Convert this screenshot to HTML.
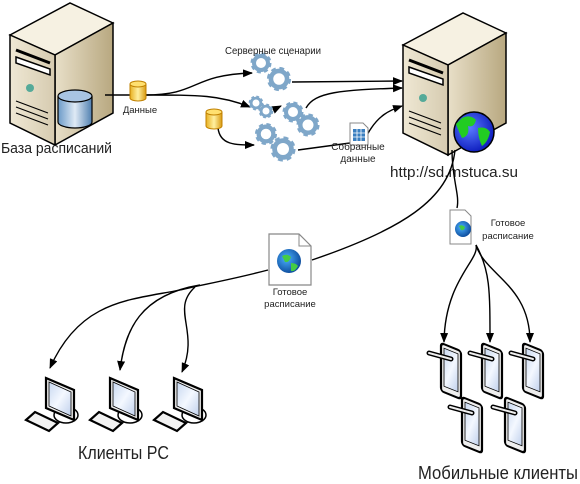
<!DOCTYPE html>
<html><head><meta charset="utf-8"><style>
html,body{margin:0;padding:0;background:#fff;}
svg{display:block;font-family:"Liberation Sans","DejaVu Sans",sans-serif;}
</style></head><body>
<svg width="580" height="484" viewBox="0 0 580 484" xmlns="http://www.w3.org/2000/svg">
<defs>
<marker id="ar" markerWidth="10" markerHeight="8" refX="9" refY="4" orient="auto" markerUnits="userSpaceOnUse"><path d="M0,0 L10,4 L0,8 z" fill="#000"/></marker>
<linearGradient id="front" x1="0" x2="1"><stop offset="0" stop-color="#efe8d4"/><stop offset="1" stop-color="#d6cbb0"/></linearGradient>
<linearGradient id="side" x1="0" x2="1"><stop offset="0" stop-color="#e8dfc8"/><stop offset="1" stop-color="#b8a880"/></linearGradient>
<linearGradient id="cyl" x1="0" x2="1"><stop offset="0" stop-color="#6b9ac8"/><stop offset=".5" stop-color="#dfeaf5"/><stop offset="1" stop-color="#4f7fb0"/></linearGradient>
<linearGradient id="ycyl" x1="0" x2="1"><stop offset="0" stop-color="#e8b020"/><stop offset=".5" stop-color="#fff0a0"/><stop offset="1" stop-color="#d99a10"/></linearGradient>
<radialGradient id="globe" cx=".4" cy=".4" r=".6"><stop offset="0" stop-color="#5a7aff"/><stop offset="1" stop-color="#1020c0"/></radialGradient>
<radialGradient id="globe2" cx=".4" cy=".4" r=".6"><stop offset="0" stop-color="#4ab0ff"/><stop offset="1" stop-color="#1050a0"/></radialGradient>
<linearGradient id="scr" x1="0" y1="0" x2="1" y2="1"><stop offset="0" stop-color="#c8d8f0"/><stop offset=".5" stop-color="#f4f8ff"/><stop offset="1" stop-color="#c0d0ec"/></linearGradient>
<g id="gear"><circle r="8" fill="none" stroke="#7fa7c9" stroke-width="5" stroke-dasharray="3.5 2.8"/><circle r="7" fill="none" stroke="#7fa7c9" stroke-width="4"/><circle r="3.5" fill="#fff"/></g>
<g id="server">
<polygon points="0,32 60,0 103,20 45,52" fill="#f6f1e2" stroke="#000" stroke-width="1.5"/>
<polygon points="45,52 103,20 103,110 45,142" fill="url(#side)" stroke="#000" stroke-width="1.5"/>
<polygon points="0,32 45,52 45,142 0,120" fill="url(#front)" stroke="#000" stroke-width="1.5"/>
<path d="M6,47 L40,60" stroke="#000" stroke-width="3"/>
<path d="M6,54 L40,66 L40,72 L6,60 z" fill="#fff" stroke="#000" stroke-width="1.5"/>
<circle cx="20" cy="85" r="4" fill="#5a9"/>
<path d="M6,98 L38,110 M6,104 L38,116 M6,110 L38,122" stroke="#000" stroke-width="1.2"/>
</g>
<g id="pc">
<ellipse cx="20" cy="37" rx="12" ry="8" fill="#fff" stroke="#000" stroke-width="1.5"/>
<polygon points="0,0 28,12 28,42 0,30" fill="#eee" stroke="#000" stroke-width="2.2"/>
<polygon points="3,4 25,14 25,38 3,28" fill="url(#scr)" stroke="#000" stroke-width=".8"/>
<polygon points="-20,42 -11,34 12,45 3,53" fill="#f2f2f2" stroke="#000" stroke-width="2.2"/>
</g>
<g id="tab">
<rect x="0" y="0" width="20" height="48" rx="3" transform="skewY(22)" fill="#eee" stroke="#000" stroke-width="2.2"/>
<rect x="3" y="4" width="14" height="38" transform="skewY(22)" fill="url(#scr)" stroke="#000" stroke-width=".8"/>
<path d="M-12,10 L10,16" stroke="#000" stroke-width="5" stroke-linecap="round"/>
<path d="M-12,10 L10,16" stroke="#eee" stroke-width="2" stroke-linecap="round"/>
</g>
</defs>

<use href="#server" x="10" y="3"/>
<path d="M58,96 v26 a17,6 0 0 0 34,0 v-26" fill="url(#cyl)" stroke="#000" stroke-width="1.2"/>
<ellipse cx="75" cy="96" rx="17" ry="6" fill="#a8c4e2" stroke="#000" stroke-width="1.2"/>
<text x="1" y="153" font-size="15" textLength="111" lengthAdjust="spacingAndGlyphs" fill="#222">База расписаний</text>

<use href="#server" x="403" y="13"/>
<circle cx="474" cy="132" r="20" fill="url(#globe)" stroke="#000" stroke-width="1.5"/>
<path d="M462,118 q8,-4 14,2 q-2,8 -8,6 q2,10 -6,12 q-4,-8 -6,-14 z M478,128 q8,-2 12,4 q-2,10 -8,14 q-4,-8 -4,-18 z" fill="#2c2"/>
<text x="390" y="177" font-size="15" textLength="128" lengthAdjust="spacingAndGlyphs" fill="#222">http://sd.mstuca.su</text>

<g fill="none" stroke="#000" stroke-width="1.4">
<path d="M105,95 L133,95"/>
<path d="M145,95 C200,95 190,75 252,73" marker-end="url(#ar)"/>
<path d="M145,95 C200,95 220,95 250,107" marker-end="url(#ar)"/>
<path d="M218,128 C220,145 235,145 254,145" marker-end="url(#ar)"/>
<path d="M273,110 L281,106" marker-end="url(#ar)"/>
<path d="M292,82 L402,81" marker-end="url(#ar)"/>
<path d="M306,108 C315,92 340,90 402,88" marker-end="url(#ar)"/>
<path d="M298,150 L350,143"/>
<path d="M367,135 C378,115 390,110 402,106" marker-end="url(#ar)"/>
<path d="M455,150 C450,200 400,230 312,260 M268,270 C230,280 200,285 180,290 C130,300 80,300 50,368" marker-end="url(#ar)"/>
<path d="M200,285 C140,295 125,330 120,370" marker-end="url(#ar)"/>
<path d="M195,287 C170,310 200,330 182,372" marker-end="url(#ar)"/>
<path d="M452,150 C452,180 460,195 457,208"/>
<path d="M476,245 C480,260 445,280 444,342" marker-end="url(#ar)"/>
<path d="M476,245 C490,270 490,290 490,342" marker-end="url(#ar)"/>
<path d="M476,245 C485,275 530,285 530,342" marker-end="url(#ar)"/>
</g>

<g stroke="#c08000" stroke-width="1">
<path d="M130,84 v14 a8,3 0 0 0 16,0 v-14" fill="url(#ycyl)"/>
<ellipse cx="138" cy="84" rx="8" ry="3" fill="#ffe070"/>
<path d="M206,112 v14 a8,3 0 0 0 16,0 v-14" fill="url(#ycyl)"/>
<ellipse cx="214" cy="112" rx="8" ry="3" fill="#ffe070"/>
</g>
<text x="140" y="113" font-size="9.5" text-anchor="middle" fill="#222">Данные</text>

<use href="#gear" x="261" y="63"/>
<g transform="translate(279,79) scale(1.15)"><use href="#gear"/></g>
<g transform="translate(256,103) scale(.7)"><use href="#gear"/></g>
<g transform="translate(266,111) scale(.7)"><use href="#gear"/></g>
<use href="#gear" x="293" y="112"/>
<g transform="translate(308,125) scale(1.1)"><use href="#gear"/></g>
<g transform="translate(266,134) scale(1.05)"><use href="#gear"/></g>
<g transform="translate(283,149) scale(1.2)"><use href="#gear"/></g>
<text x="225" y="54" font-size="10" textLength="96" lengthAdjust="spacingAndGlyphs" fill="#222">Серверные сценарии</text>

<path d="M350,123 h13 l5,5 v17 h-18 z" fill="#fff" stroke="#888"/>
<rect x="353" y="129" width="12" height="12" fill="#3a7fc0"/>
<path d="M353,133 h12 M353,137 h12 M357,129 v12 M361,129 v12" stroke="#fff" stroke-width=".8"/>
<text x="358" y="150" font-size="10" text-anchor="middle" fill="#222">Собранные</text>
<text x="358" y="162" font-size="10" text-anchor="middle" fill="#222">данные</text>

<path d="M269,234 h30 l12,12 v39 h-42 z" fill="#fff" stroke="#888" stroke-width="1.2"/>
<path d="M299,234 v12 h12" fill="none" stroke="#888"/>
<circle cx="289" cy="261" r="12" fill="url(#globe2)"/>
<path d="M282,256 q5,-3 9,1 q-2,6 -6,5 z M291,263 q5,0 7,3 q-3,6 -7,5 z" fill="#4c4"/>
<text x="290" y="295" font-size="9.5" text-anchor="middle" fill="#222">Готовое</text>
<text x="290" y="307" font-size="9.5" text-anchor="middle" fill="#222">расписание</text>

<path d="M450,210 h15 l6,6 v28 h-21 z" fill="#fff" stroke="#888"/>
<circle cx="463" cy="229" r="8" fill="url(#globe2)"/>
<path d="M459,226 q3,-2 6,1 q-1,4 -4,3 z" fill="#4c4"/>
<text x="508" y="226" font-size="9.5" text-anchor="middle" fill="#222">Готовое</text>
<text x="508" y="239" font-size="9.5" text-anchor="middle" fill="#222">расписание</text>

<use href="#pc" x="46" y="378"/>
<use href="#pc" x="110" y="378"/>
<use href="#pc" x="174" y="378"/>
<text x="78" y="459" font-size="18" textLength="91" lengthAdjust="spacingAndGlyphs" fill="#222">Клиенты PC</text>

<use href="#tab" x="441" y="343"/>
<use href="#tab" x="482" y="343"/>
<use href="#tab" x="523" y="343"/>
<use href="#tab" x="462" y="397"/>
<use href="#tab" x="505" y="397"/>
<text x="418" y="479" font-size="18" textLength="160" lengthAdjust="spacingAndGlyphs" fill="#222">Мобильные клиенты</text>
</svg>
</body></html>
